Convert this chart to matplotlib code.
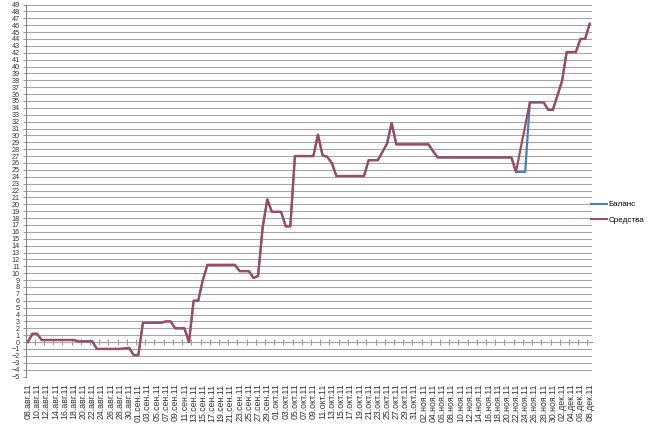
import numpy as np
import pandas as pd
import matplotlib
matplotlib.use("Agg")
import matplotlib.pyplot as plt

plt.rcParams['font.family'] = ['Liberation Sans', 'DejaVu Sans']

# breakpoints of the two series
dates = [
    "2011-08-08", "2011-08-09", "2011-08-10", "2011-08-11", "2011-08-18", "2011-08-19",
    "2011-08-22", "2011-08-23", "2011-08-28", "2011-08-30", "2011-08-31", "2011-09-01",
    "2011-09-02", "2011-09-06", "2011-09-07", "2011-09-08", "2011-09-09", "2011-09-11",
    "2011-09-12", "2011-09-13", "2011-09-14", "2011-09-15", "2011-09-16", "2011-09-22",
    "2011-09-23", "2011-09-25", "2011-09-26", "2011-09-27", "2011-09-28", "2011-09-29",
    "2011-09-30", "2011-10-02", "2011-10-03", "2011-10-04", "2011-10-05", "2011-10-09",
    "2011-10-10", "2011-10-11", "2011-10-12", "2011-10-13", "2011-10-14", "2011-10-20",
    "2011-10-21", "2011-10-23", "2011-10-24", "2011-10-25", "2011-10-26", "2011-10-27",
    "2011-11-03", "2011-11-04", "2011-11-05", "2011-11-21", "2011-11-22", "2011-11-23",
    "2011-11-24", "2011-11-25", "2011-11-28", "2011-11-29", "2011-11-30", "2011-12-01",
    "2011-12-02", "2011-12-03", "2011-12-05", "2011-12-06", "2011-12-07", "2011-12-08",
]
equity = [
    0.0, 1.2, 1.2, 0.3, 0.3, 0.1,
    0.1, -1.0, -1.0, -0.85, -1.9, -1.9,
    2.8, 2.8, 3.0, 3.0, 2.0, 2.0,
    0.0, 6.0, 6.0, 9.0, 11.2, 11.2,
    10.3, 10.3, 9.3, 9.6, 16.7, 20.7,
    18.9, 18.9, 16.8, 16.8, 27.0, 27.0,
    30.1, 27.1, 26.9, 26.0, 24.1, 24.1,
    26.4, 26.4, 27.6, 28.8, 31.8, 28.7,
    28.7, 27.7, 26.8, 26.8, 24.7, 28.1,
    31.4, 34.8, 34.8, 33.7, 33.7, 35.8,
    37.9, 42.1, 42.1, 44.0, 44.0, 46.2,
]
balance = [
    0.0, 1.2, 1.2, 0.3, 0.3, 0.1,
    0.1, -1.0, -1.0, -0.85, -1.9, -1.9,
    2.8, 2.8, 3.0, 3.0, 2.0, 2.0,
    0.0, 6.0, 6.0, 9.0, 11.2, 11.2,
    10.3, 10.3, 9.3, 9.6, 16.7, 20.7,
    18.9, 18.9, 16.8, 16.8, 27.0, 27.0,
    30.1, 27.1, 26.9, 26.0, 24.1, 24.1,
    26.4, 26.4, 27.6, 28.8, 31.8, 28.7,
    28.7, 27.7, 26.8, 26.8, 24.7, 24.7,
    24.7, 34.8, 34.8, 33.7, 33.7, 35.8,
    37.9, 42.1, 42.1, 44.0, 44.0, 46.2,
]
months = {8: "авг", 9: "сен", 10: "окт", 11: "ноя", 12: "дек"}

start = pd.Timestamp("2011-08-08")
end = pd.Timestamp("2011-12-08")
x = (pd.to_datetime(dates) - start).days.to_numpy()
n_days = (end - start).days

fig = plt.figure(figsize=(6.5, 4.26), dpi=100)
ax = fig.add_axes([25.5 / 650, 1 - 376.5 / 426, (592 - 25.5) / 650, (376.5 - 4.5) / 426])

l1, = ax.plot(x, balance, color='#4a7ebb', lw=1.6, label='Баланс')
l2, = ax.plot(x, equity, color='#9e4b5e', lw=1.6, label='Средства')

ax.set_xlim(-0.5, n_days + 0.5)
ax.set_ylim(-5, 49)
ax.set_yticks(np.arange(-5, 50))
ax.grid(axis='y', color='#a6a6a6', lw=0.8)
ax.set_axisbelow(True)

# labels every two days at the bottom
label_days = np.arange(0, n_days + 1, 2)
label_dates = start + pd.to_timedelta(label_days, unit='D')
ax.set_xticks(label_days)
ax.set_xticklabels([f"{t.day:02d}.{months[t.month]}.11" for t in label_dates], rotation=90)
ax.tick_params(axis='x', length=0, pad=5, labelsize=6.3, labelcolor='#333333')
ax.tick_params(axis='y', length=2.5, width=0.6, color='#868686', pad=1.5,
               labelsize=5.2, labelcolor='#333333')

for s in ['top', 'right', 'bottom']:
    ax.spines[s].set_visible(False)
ax.spines['left'].set_color('#868686')
ax.spines['left'].set_linewidth(0.8)

# horizontal axis line crossing at zero, with tick marks between categories
y0 = (0 - (-5)) / (49 - (-5))
sec = ax.secondary_xaxis(y0)
sec.set_xticks(np.arange(-0.5, n_days + 1, 2))
sec.tick_params(direction='inout', length=4, width=0.6, color='#868686', labelbottom=False)
sec.spines['bottom'].set_color('#868686')
sec.spines['bottom'].set_linewidth(0.8)

leg = fig.legend(handles=[l1, l2], loc='center left', bbox_to_anchor=(591 / 650, 1 - 212.5 / 426),
                 frameon=False, fontsize=5.8, handlelength=2.0, handletextpad=0.2,
                 labelspacing=1.0, borderpad=0, borderaxespad=0)
for h in leg.get_lines():
    h.set_linewidth(1.4)

fig.savefig("out.png", dpi=100)
